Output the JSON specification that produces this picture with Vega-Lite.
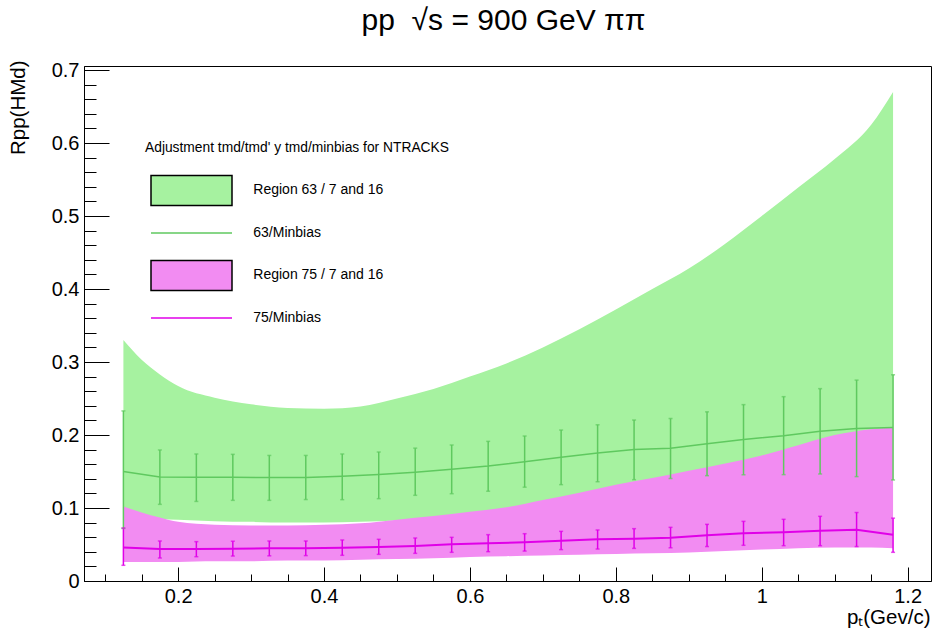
{
  "$schema": "https://vega.github.io/schema/vega-lite/v6.json",
  "width": 847,
  "height": 515,
  "autosize": {"type": "none"},
  "padding": {"left": 84, "top": 66, "right": 4, "bottom": 54},
  "background": "white",
  "config": {
    "font": "Liberation Sans",
    "view": {"stroke": "black", "strokeWidth": 1},
    "axis": {"grid": false, "domainColor": "black", "tickColor": "black", "labelColor": "black", "titleColor": "black", "labelFont": "Liberation Sans", "titleFont": "Liberation Sans", "titleFontWeight": "normal"}
  },
  "title": {"text": "pp\u00a0\u00a0√s = 900 GeV ππ", "font": "Liberation Sans", "fontSize": 30, "fontWeight": "normal", "color": "black", "anchor": "middle", "frame": "group", "baseline": "alphabetic", "offset": 0, "dx": -4},
  "datasets": {
    "bands": [
      {"series": "Region 63 / 7 and 16", "x": 0.125, "lo": 0.088, "hi": 0.330},
      {"series": "Region 63 / 7 and 16", "x": 0.15, "lo": 0.087, "hi": 0.303},
      {"series": "Region 63 / 7 and 16", "x": 0.175, "lo": 0.085, "hi": 0.283},
      {"series": "Region 63 / 7 and 16", "x": 0.2, "lo": 0.084, "hi": 0.267},
      {"series": "Region 63 / 7 and 16", "x": 0.25, "lo": 0.082, "hi": 0.251},
      {"series": "Region 63 / 7 and 16", "x": 0.3, "lo": 0.081, "hi": 0.242},
      {"series": "Region 63 / 7 and 16", "x": 0.35, "lo": 0.080, "hi": 0.237},
      {"series": "Region 63 / 7 and 16", "x": 0.4, "lo": 0.080, "hi": 0.236},
      {"series": "Region 63 / 7 and 16", "x": 0.45, "lo": 0.081, "hi": 0.239},
      {"series": "Region 63 / 7 and 16", "x": 0.5, "lo": 0.083, "hi": 0.250},
      {"series": "Region 63 / 7 and 16", "x": 0.55, "lo": 0.087, "hi": 0.263},
      {"series": "Region 63 / 7 and 16", "x": 0.6, "lo": 0.092, "hi": 0.280},
      {"series": "Region 63 / 7 and 16", "x": 0.65, "lo": 0.098, "hi": 0.298},
      {"series": "Region 63 / 7 and 16", "x": 0.7, "lo": 0.105, "hi": 0.320},
      {"series": "Region 63 / 7 and 16", "x": 0.75, "lo": 0.112, "hi": 0.345},
      {"series": "Region 63 / 7 and 16", "x": 0.8, "lo": 0.120, "hi": 0.372},
      {"series": "Region 63 / 7 and 16", "x": 0.85, "lo": 0.128, "hi": 0.400},
      {"series": "Region 63 / 7 and 16", "x": 0.9, "lo": 0.137, "hi": 0.428},
      {"series": "Region 63 / 7 and 16", "x": 0.95, "lo": 0.146, "hi": 0.462},
      {"series": "Region 63 / 7 and 16", "x": 1.0, "lo": 0.155, "hi": 0.500},
      {"series": "Region 63 / 7 and 16", "x": 1.05, "lo": 0.165, "hi": 0.539},
      {"series": "Region 63 / 7 and 16", "x": 1.1, "lo": 0.175, "hi": 0.578},
      {"series": "Region 63 / 7 and 16", "x": 1.15, "lo": 0.185, "hi": 0.625},
      {"series": "Region 63 / 7 and 16", "x": 1.18, "lo": 0.190, "hi": 0.670},
      {"series": "Region 75 / 7 and 16", "x": 0.125, "lo": 0.026, "hi": 0.102},
      {"series": "Region 75 / 7 and 16", "x": 0.15, "lo": 0.026, "hi": 0.094},
      {"series": "Region 75 / 7 and 16", "x": 0.175, "lo": 0.026, "hi": 0.087},
      {"series": "Region 75 / 7 and 16", "x": 0.2, "lo": 0.026, "hi": 0.081},
      {"series": "Region 75 / 7 and 16", "x": 0.25, "lo": 0.027, "hi": 0.077},
      {"series": "Region 75 / 7 and 16", "x": 0.3, "lo": 0.027, "hi": 0.076},
      {"series": "Region 75 / 7 and 16", "x": 0.35, "lo": 0.028, "hi": 0.076},
      {"series": "Region 75 / 7 and 16", "x": 0.4, "lo": 0.028, "hi": 0.077},
      {"series": "Region 75 / 7 and 16", "x": 0.45, "lo": 0.029, "hi": 0.079},
      {"series": "Region 75 / 7 and 16", "x": 0.5, "lo": 0.030, "hi": 0.084},
      {"series": "Region 75 / 7 and 16", "x": 0.55, "lo": 0.031, "hi": 0.089},
      {"series": "Region 75 / 7 and 16", "x": 0.6, "lo": 0.033, "hi": 0.095},
      {"series": "Region 75 / 7 and 16", "x": 0.65, "lo": 0.034, "hi": 0.101},
      {"series": "Region 75 / 7 and 16", "x": 0.7, "lo": 0.035, "hi": 0.111},
      {"series": "Region 75 / 7 and 16", "x": 0.75, "lo": 0.036, "hi": 0.121},
      {"series": "Region 75 / 7 and 16", "x": 0.8, "lo": 0.037, "hi": 0.132},
      {"series": "Region 75 / 7 and 16", "x": 0.85, "lo": 0.038, "hi": 0.141},
      {"series": "Region 75 / 7 and 16", "x": 0.9, "lo": 0.039, "hi": 0.151},
      {"series": "Region 75 / 7 and 16", "x": 0.95, "lo": 0.041, "hi": 0.161},
      {"series": "Region 75 / 7 and 16", "x": 1.0, "lo": 0.043, "hi": 0.172},
      {"series": "Region 75 / 7 and 16", "x": 1.05, "lo": 0.045, "hi": 0.186},
      {"series": "Region 75 / 7 and 16", "x": 1.1, "lo": 0.046, "hi": 0.200},
      {"series": "Region 75 / 7 and 16", "x": 1.15, "lo": 0.046, "hi": 0.208},
      {"series": "Region 75 / 7 and 16", "x": 1.18, "lo": 0.045, "hi": 0.210}
    ],
    "points": [
      {"series": "63/Minbias", "x": 0.125, "y": 0.150, "lo": 0.072, "hi": 0.233},
      {"series": "63/Minbias", "x": 0.175, "y": 0.1425, "lo": 0.105, "hi": 0.1795},
      {"series": "63/Minbias", "x": 0.225, "y": 0.142, "lo": 0.109, "hi": 0.174},
      {"series": "63/Minbias", "x": 0.275, "y": 0.142, "lo": 0.1105, "hi": 0.1735},
      {"series": "63/Minbias", "x": 0.325, "y": 0.1417, "lo": 0.1105, "hi": 0.172},
      {"series": "63/Minbias", "x": 0.375, "y": 0.1417, "lo": 0.1116, "hi": 0.172},
      {"series": "63/Minbias", "x": 0.425, "y": 0.1434, "lo": 0.1114, "hi": 0.174},
      {"series": "63/Minbias", "x": 0.475, "y": 0.146, "lo": 0.1128, "hi": 0.1767},
      {"series": "63/Minbias", "x": 0.525, "y": 0.149, "lo": 0.1174, "hi": 0.182},
      {"series": "63/Minbias", "x": 0.575, "y": 0.153, "lo": 0.1196, "hi": 0.1863},
      {"series": "63/Minbias", "x": 0.625, "y": 0.1575, "lo": 0.123, "hi": 0.1913},
      {"series": "63/Minbias", "x": 0.675, "y": 0.1635, "lo": 0.1285, "hi": 0.1986},
      {"series": "63/Minbias", "x": 0.725, "y": 0.1694, "lo": 0.132, "hi": 0.2068},
      {"series": "63/Minbias", "x": 0.775, "y": 0.1753, "lo": 0.136, "hi": 0.214},
      {"series": "63/Minbias", "x": 0.825, "y": 0.180, "lo": 0.1388, "hi": 0.2205},
      {"series": "63/Minbias", "x": 0.875, "y": 0.182, "lo": 0.1404, "hi": 0.2226},
      {"series": "63/Minbias", "x": 0.925, "y": 0.188, "lo": 0.1443, "hi": 0.2317},
      {"series": "63/Minbias", "x": 0.975, "y": 0.194, "lo": 0.1455, "hi": 0.2416},
      {"series": "63/Minbias", "x": 1.03, "y": 0.199, "lo": 0.1457, "hi": 0.2525},
      {"series": "63/Minbias", "x": 1.08, "y": 0.205, "lo": 0.1466, "hi": 0.2635},
      {"series": "63/Minbias", "x": 1.13, "y": 0.209, "lo": 0.143, "hi": 0.2752},
      {"series": "63/Minbias", "x": 1.18, "y": 0.2103, "lo": 0.1384, "hi": 0.2825},
      {"series": "75/Minbias", "x": 0.125, "y": 0.046, "lo": 0.0215, "hi": 0.0726},
      {"series": "75/Minbias", "x": 0.175, "y": 0.0438, "lo": 0.0315, "hi": 0.0548},
      {"series": "75/Minbias", "x": 0.225, "y": 0.0438, "lo": 0.0333, "hi": 0.0539},
      {"series": "75/Minbias", "x": 0.275, "y": 0.0443, "lo": 0.0342, "hi": 0.0545},
      {"series": "75/Minbias", "x": 0.325, "y": 0.0447, "lo": 0.0345, "hi": 0.0548},
      {"series": "75/Minbias", "x": 0.375, "y": 0.0447, "lo": 0.0348, "hi": 0.0548},
      {"series": "75/Minbias", "x": 0.425, "y": 0.0457, "lo": 0.0352, "hi": 0.0562},
      {"series": "75/Minbias", "x": 0.475, "y": 0.0466, "lo": 0.0365, "hi": 0.0571},
      {"series": "75/Minbias", "x": 0.525, "y": 0.048, "lo": 0.0379, "hi": 0.0589},
      {"series": "75/Minbias", "x": 0.575, "y": 0.0502, "lo": 0.0393, "hi": 0.0598},
      {"series": "75/Minbias", "x": 0.625, "y": 0.0516, "lo": 0.0402, "hi": 0.0635},
      {"series": "75/Minbias", "x": 0.675, "y": 0.053, "lo": 0.041, "hi": 0.0648},
      {"series": "75/Minbias", "x": 0.725, "y": 0.0553, "lo": 0.043, "hi": 0.068},
      {"series": "75/Minbias", "x": 0.775, "y": 0.0571, "lo": 0.0438, "hi": 0.0699},
      {"series": "75/Minbias", "x": 0.825, "y": 0.058, "lo": 0.0447, "hi": 0.0717},
      {"series": "75/Minbias", "x": 0.875, "y": 0.0594, "lo": 0.0455, "hi": 0.0735},
      {"series": "75/Minbias", "x": 0.925, "y": 0.0628, "lo": 0.0472, "hi": 0.0776},
      {"series": "75/Minbias", "x": 0.975, "y": 0.0653, "lo": 0.0489, "hi": 0.0817},
      {"series": "75/Minbias", "x": 1.03, "y": 0.0669, "lo": 0.0484, "hi": 0.0845},
      {"series": "75/Minbias", "x": 1.08, "y": 0.0687, "lo": 0.0484, "hi": 0.0886},
      {"series": "75/Minbias", "x": 1.13, "y": 0.0701, "lo": 0.0472, "hi": 0.0938},
      {"series": "75/Minbias", "x": 1.18, "y": 0.0633, "lo": 0.0393, "hi": 0.0861}
    ]
  },
  "resolve": {"axis": {"x": "independent", "y": "independent"}},
  "layer": [
    {
      "data": {"name": "bands"},
      "transform": [{"filter": "false"}],
      "mark": {"type": "point", "filled": true, "opacity": 1},
      "encoding": {
        "x": {"field": "x", "type": "quantitative", "axis": null},
        "y": {"field": "hi", "type": "quantitative", "axis": null},
        "fill": {"field": "series", "type": "nominal",
          "scale": {"domain": ["Region 63 / 7 and 16", "63/Minbias", "Region 75 / 7 and 16", "75/Minbias"], "range": ["#a6f2a0", "transparent", "#f28cf2", "transparent"]},
          "legend": {
            "type": "symbol", "orient": "none", "legendX": 61, "legendY": 74.6, "padding": 0,
            "title": "Adjustment tmd/tmd' y tmd/minbias for NTRACKS",
            "titleFont": "Liberation Sans", "titleFontSize": 13.8, "titleFontWeight": "normal", "titleColor": "black", "titlePadding": 20, "titleLimit": 1000,
            "labelFont": "Liberation Sans", "labelFontSize": 14, "labelColor": "black", "labelLimit": 1000,
            "symbolSize": 900, "symbolStrokeWidth": 1.5, "symbolOpacity": 1, "symbolOffset": 30.5, "labelOffset": 45.8, "rowPadding": 6.5}},
        "shape": {"field": "series", "type": "nominal",
          "scale": {"domain": ["Region 63 / 7 and 16", "63/Minbias", "Region 75 / 7 and 16", "75/Minbias"], "range": ["M-2.7,-1H2.7V1H-2.7Z", "M-2.7,-1M-2.7,0H2.7M2.7,1", "M-2.7,-1H2.7V1H-2.7Z", "M-2.7,-1M-2.7,0H2.7M2.7,1"]},
          "legend": {
            "type": "symbol", "orient": "none", "legendX": 61, "legendY": 74.6, "padding": 0,
            "title": "Adjustment tmd/tmd' y tmd/minbias for NTRACKS",
            "titleFont": "Liberation Sans", "titleFontSize": 13.8, "titleFontWeight": "normal", "titleColor": "black", "titlePadding": 20, "titleLimit": 1000,
            "labelFont": "Liberation Sans", "labelFontSize": 14, "labelColor": "black", "labelLimit": 1000,
            "symbolSize": 900, "symbolStrokeWidth": 1.5, "symbolOpacity": 1, "symbolOffset": 30.5, "labelOffset": 45.8, "rowPadding": 6.5}},
        "stroke": {"field": "series", "type": "nominal",
          "scale": {"domain": ["Region 63 / 7 and 16", "63/Minbias", "Region 75 / 7 and 16", "75/Minbias"], "range": ["black", "#5fc95f", "black", "#e000e8"]},
          "legend": {
            "type": "symbol", "orient": "none", "legendX": 61, "legendY": 74.6, "padding": 0,
            "title": "Adjustment tmd/tmd' y tmd/minbias for NTRACKS",
            "titleFont": "Liberation Sans", "titleFontSize": 13.8, "titleFontWeight": "normal", "titleColor": "black", "titlePadding": 20, "titleLimit": 1000,
            "labelFont": "Liberation Sans", "labelFontSize": 14, "labelColor": "black", "labelLimit": 1000,
            "symbolSize": 900, "symbolStrokeWidth": 1.5, "symbolOpacity": 1, "symbolOffset": 30.5, "labelOffset": 45.8, "rowPadding": 6.5}}
      }
    },
    {
      "data": {"name": "bands"},
      "transform": [{"filter": "datum.series == 'Region 63 / 7 and 16'"}],
      "mark": {"type": "area", "opacity": 1, "interpolate": "monotone"},
      "encoding": {
        "x": {"field": "x", "type": "quantitative", "scale": {"domain": [0.071, 1.232], "nice": false, "zero": false},
          "axis": {"orient": "bottom", "values": [0.2, 0.4, 0.6, 0.8, 1.0, 1.2], "format": "~g", "tickSize": -14, "tickWidth": 1, "labelPadding": 19, "labelFontSize": 20, "domainWidth": 1,
            "title": "pₜ(Gev/c)", "titleFontSize": 20.5, "titleAnchor": "end", "titleAlign": "right", "titleBaseline": "alphabetic", "titleX": 846, "titleY": 42}},
        "y": {"field": "hi", "type": "quantitative", "scale": {"domain": [0, 0.7055], "nice": false, "zero": false},
          "axis": {"orient": "left", "values": [0, 0.1, 0.2, 0.3, 0.4, 0.5, 0.6, 0.7], "format": "~g", "tickSize": -25, "tickWidth": 1, "labelPadding": 30, "labelFontSize": 20, "domainWidth": 1,
            "title": "Rpp(HMd)", "titleFontSize": 20.5, "titleAnchor": "end", "titleAlign": "right", "titleAngle": 270, "titleBaseline": "alphabetic", "titleX": -59.5, "titleY": -6}},
        "y2": {"field": "lo"},
        "fill": {"field": "series", "type": "nominal", "legend": null}
      }
    },
    {
      "data": {"name": "bands"},
      "transform": [{"filter": "datum.series == 'Region 75 / 7 and 16'"}],
      "mark": {"type": "area", "opacity": 1, "interpolate": "monotone"},
      "encoding": {
        "x": {"field": "x", "type": "quantitative", "axis": null},
        "y": {"field": "hi", "type": "quantitative", "axis": null},
        "y2": {"field": "lo"},
        "fill": {"field": "series", "type": "nominal", "legend": null}
      }
    },
    {
      "data": {"name": "points"},
      "mark": {"type": "rule", "strokeWidth": 1.5},
      "encoding": {
        "x": {"field": "x", "type": "quantitative",
          "axis": {"orient": "bottom", "values": [0.1, 0.15, 0.25, 0.3, 0.35, 0.45, 0.5, 0.55, 0.65, 0.7, 0.75, 0.85, 0.9, 0.95, 1.05, 1.1, 1.15], "tickSize": -7, "tickWidth": 1, "labels": false, "domain": false, "title": null}},
        "y": {"field": "lo", "type": "quantitative",
          "axis": {"orient": "left", "values": [0.02, 0.04, 0.06, 0.08, 0.12, 0.14, 0.16, 0.18, 0.22, 0.24, 0.26, 0.28, 0.32, 0.34, 0.36, 0.38, 0.42, 0.44, 0.46, 0.48, 0.52, 0.54, 0.56, 0.58, 0.62, 0.64, 0.66, 0.68], "tickSize": -12, "tickWidth": 1, "labels": false, "domain": false, "title": null}},
        "y2": {"field": "hi"},
        "color": {"field": "series", "type": "nominal", "scale": {"domain": ["63/Minbias", "75/Minbias"], "range": ["#5fc95f", "#e000e8"]}, "legend": null}
      }
    },
    {
      "data": {"name": "points"},
      "mark": {"type": "tick", "orient": "horizontal", "size": 4, "thickness": 1.5},
      "encoding": {
        "x": {"field": "x", "type": "quantitative", "axis": null},
        "y": {"field": "lo", "type": "quantitative", "axis": null},
        "color": {"field": "series", "type": "nominal", "scale": {"domain": ["63/Minbias", "75/Minbias"], "range": ["#5fc95f", "#e000e8"]}, "legend": null}
      }
    },
    {
      "data": {"name": "points"},
      "mark": {"type": "tick", "orient": "horizontal", "size": 4, "thickness": 1.5},
      "encoding": {
        "x": {"field": "x", "type": "quantitative", "axis": null},
        "y": {"field": "hi", "type": "quantitative", "axis": null},
        "color": {"field": "series", "type": "nominal", "scale": {"domain": ["63/Minbias", "75/Minbias"], "range": ["#5fc95f", "#e000e8"]}, "legend": null}
      }
    },
    {
      "data": {"name": "points"},
      "mark": {"type": "line", "interpolate": "linear"},
      "encoding": {
        "x": {"field": "x", "type": "quantitative", "axis": null},
        "y": {"field": "y", "type": "quantitative", "axis": null},
        "color": {"field": "series", "type": "nominal", "scale": {"domain": ["63/Minbias", "75/Minbias"], "range": ["#5fc95f", "#e000e8"]}, "legend": null},
        "strokeWidth": {"field": "series", "type": "nominal", "scale": {"domain": ["63/Minbias", "75/Minbias"], "range": [1.5, 2]}, "legend": null}
      }
    }
  ]
}
